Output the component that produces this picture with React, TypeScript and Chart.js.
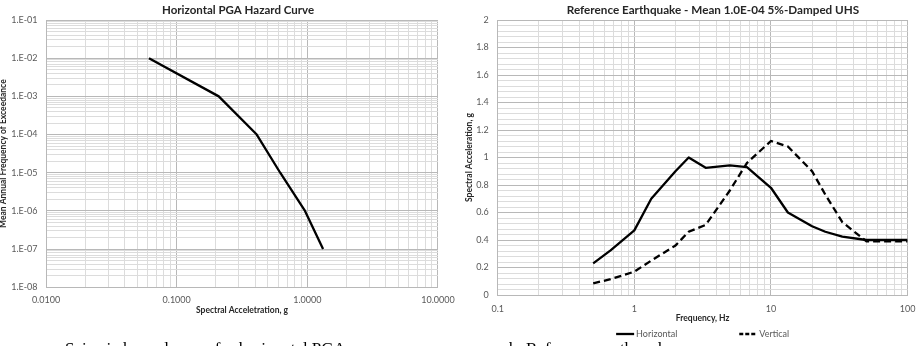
import { useEffect, useRef } from "react";
import { Chart, registerables } from "chart.js";

Chart.register(...registerables);

const FONT = "Lato, 'Open Sans', sans-serif";
const TICK_COLOR = "#595959";
const TITLE_COLOR = "#262626";
const GRID_MAJOR = "#b8b8b8";
const GRID_MINOR = "#dcdcdc";

// ---- Horizontal PGA hazard curve ----
const pgaValues = [0.0614, 0.21, 0.41, 0.62, 0.96, 1.32];
const exceedanceFreq = [1e-2, 1e-3, 1e-4, 1e-5, 1e-6, 1e-7];

const hazardXDecades = [0.01, 0.1, 1, 10];
const hazardXLabels = ["0.0100", "0.1000", "1.0000", "10.0000"];
const hazardYDecades = [1e-8, 1e-7, 1e-6, 1e-5, 1e-4, 1e-3, 1e-2, 1e-1];
const hazardYLabels = ["1.E-08", "1.E-07", "1.E-06", "1.E-05", "1.E-04", "1.E-03", "1.E-02", "1.E-01"];

// ---- Reference earthquake UHS ----
const uhsFreqH = [0.5, 0.67, 1, 1.33, 2, 2.5, 3.33, 5, 6.67, 10, 13.3, 20, 25, 33.3, 50, 100];
const uhsSaH = [0.23, 0.325, 0.47, 0.7, 0.9, 1.0, 0.925, 0.943, 0.93, 0.78, 0.6, 0.5, 0.46, 0.425, 0.4, 0.4];
const uhsFreqV = [0.5, 0.67, 1, 1.33, 2, 2.5, 3.33, 5, 6.67, 10, 13.3, 20, 25, 33.3, 50, 100];
const uhsSaV = [0.085, 0.115, 0.17, 0.25, 0.36, 0.46, 0.51, 0.76, 0.96, 1.12, 1.08, 0.9, 0.73, 0.53, 0.39, 0.39];

const uhsXDecades = [0.1, 1, 10, 100];
const uhsXLabels = ["0.1", "1", "10", "100"];
const uhsYValues = [0, 0.2, 0.4, 0.6, 0.8, 1, 1.2, 1.4, 1.6, 1.8, 2];
const uhsYLabels = ["0", "0.2", "0.4", "0.6", "0.8", "1", "1.2", "1.4", "1.6", "1.8", "2"];
const UHS_MINOR_STEP = 0.04;

// every 1..9 x 10^n value between min and max (log grid)
function logGrid(min: number, max: number): number[] {
  const out: number[] = [];
  const e0 = Math.floor(Math.log10(min) + 1e-9);
  const e1 = Math.ceil(Math.log10(max) - 1e-9);
  for (let e = e0; e <= e1; e++) {
    for (let m = 1; m <= 9; m++) {
      const v = Number((m * Math.pow(10, e)).toPrecision(10));
      if (v >= min * (1 - 1e-9) && v <= max * (1 + 1e-9)) out.push(v);
    }
  }
  return out;
}

function labelFor(values: number[], labels: string[], v: number): string {
  const i = values.findIndex((d) => Math.abs(d - v) <= Math.abs(d) * 1e-6 + 1e-9);
  return i >= 0 ? labels[i] : "";
}

function isIn(values: number[], v: number): boolean {
  return values.some((d) => Math.abs(d - v) <= Math.abs(d) * 1e-6 + 1e-9);
}

const shiftTitle = (dx: number) => ({
  id: "shiftTitle",
  afterLayout(chart: any) {
    const t = chart.titleBlock;
    if (t) {
      t.left += dx;
      t.right += dx;
    }
  },
});

// line-sample key drawn under the axis title
const lineKey = {
  id: "lineKey",
  afterDraw(chart: any) {
    const { ctx, chartArea } = chart;
    const y = chart.height - 12;
    const sample = 18;
    const gap = 2;
    const spacing = 62;
    ctx.save();
    ctx.font = `9px ${FONT}`;
    const items = chart.data.datasets.map((ds: any) => ({
      ds,
      w: sample + gap + ctx.measureText(ds.label).width,
    }));
    const total = items.reduce((s: number, it: any) => s + it.w, 0) + spacing * (items.length - 1);
    let x = (chartArea.left + chartArea.right) / 2 - total / 2;
    for (const it of items) {
      ctx.strokeStyle = it.ds.borderColor;
      ctx.lineWidth = it.ds.borderWidth;
      ctx.setLineDash(it.ds.borderDash ? [4, 2] : []);
      ctx.beginPath();
      ctx.moveTo(x, y);
      ctx.lineTo(x + sample, y);
      ctx.stroke();
      ctx.setLineDash([]);
      ctx.fillStyle = TICK_COLOR;
      ctx.textBaseline = "middle";
      ctx.textAlign = "left";
      ctx.fillText(it.ds.label, x + sample + gap, y);
      x += it.w + spacing;
    }
    ctx.restore();
  },
};

function hazardConfig(): any {
  return {
    type: "scatter",
    data: {
      datasets: [
        {
          label: "Horizontal PGA",
          data: pgaValues.map((x, i) => ({ x, y: exceedanceFreq[i] })),
          showLine: true,
          borderColor: "#000000",
          borderWidth: 2.3,
          borderJoinStyle: "round",
          pointRadius: 0,
          pointHoverRadius: 0,
          fill: false,
        },
      ],
    },
    plugins: [shiftTitle(19)],
    options: {
      animation: false,
      responsive: false,
      devicePixelRatio: 1,
      events: [],
      layout: { padding: { left: 0, right: 24, top: 0, bottom: 28.7 } },
      plugins: {
        legend: { display: false },
        tooltip: { enabled: false },
        title: {
          display: true,
          text: "Horizontal PGA Hazard Curve",
          color: TITLE_COLOR,
          font: { family: FONT, size: 11.5, weight: "bold" },
          padding: { top: 3.3, bottom: 2.9 },
        },
      },
      scales: {
        x: {
          type: "logarithmic",
          min: 0.01,
          max: 10,
          afterBuildTicks: (s: any) => {
            s.ticks = logGrid(0.01, 10).map((value) => ({ value }));
          },
          afterFit: (s: any) => {
            s.height = 30;
          },
          grid: {
            drawTicks: false,
            lineWidth: 1,
            color: (c: any) => (isIn(hazardXDecades, c.tick?.value) ? GRID_MAJOR : GRID_MINOR),
          },
          border: { color: GRID_MAJOR },
          ticks: {
            autoSkip: false,
            maxRotation: 0,
            padding: 7.3,
            color: TICK_COLOR,
            font: { family: FONT, size: 9 },
            callback: (v: any) => labelFor(hazardXDecades, hazardXLabels, Number(v)),
          },
          title: {
            display: true,
            text: "Spectral Acceletration, g",
            color: TITLE_COLOR,
            font: { family: FONT, size: 8.5, weight: "bold" },
            padding: { top: 0, bottom: 2 },
          },
        },
        y: {
          type: "logarithmic",
          min: 1e-8,
          max: 1e-1,
          afterBuildTicks: (s: any) => {
            s.ticks = logGrid(1e-8, 1e-1).map((value) => ({ value }));
          },
          afterFit: (s: any) => {
            s.width = 46;
          },
          grid: {
            drawTicks: false,
            lineWidth: 1,
            color: (c: any) => (isIn(hazardYDecades, c.tick?.value) ? GRID_MAJOR : GRID_MINOR),
          },
          border: { color: GRID_MAJOR },
          ticks: {
            autoSkip: false,
            padding: 8.5,
            color: TICK_COLOR,
            font: { family: FONT, size: 9 },
            callback: (v: any) => labelFor(hazardYDecades, hazardYLabels, Number(v)),
          },
          title: {
            display: true,
            text: "Mean Annual Frequency of Exceedance",
            color: TITLE_COLOR,
            font: { family: FONT, size: 8.5, weight: "bold" },
            padding: { top: -2, bottom: 0 },
          },
        },
      },
    },
  };
}

function uhsConfig(): any {
  const minorY: number[] = [];
  for (let i = 0; i <= Math.round(2 / UHS_MINOR_STEP); i++) {
    minorY.push(Number((i * UHS_MINOR_STEP).toFixed(2)));
  }
  return {
    type: "scatter",
    data: {
      datasets: [
        {
          label: "Horizontal",
          data: uhsFreqH.map((x, i) => ({ x, y: uhsSaH[i] })),
          showLine: true,
          borderColor: "#000000",
          borderWidth: 2.3,
          borderJoinStyle: "round",
          pointRadius: 0,
          pointHoverRadius: 0,
          fill: false,
        },
        {
          label: "Vertical",
          data: uhsFreqV.map((x, i) => ({ x, y: uhsSaV[i] })),
          showLine: true,
          borderColor: "#000000",
          borderWidth: 2.3,
          borderDash: [7, 4],
          pointRadius: 0,
          pointHoverRadius: 0,
          fill: false,
        },
      ],
    },
    plugins: [shiftTitle(24), lineKey],
    options: {
      animation: false,
      responsive: false,
      devicePixelRatio: 1,
      events: [],
      layout: { padding: { left: 0, right: 8, top: 0, bottom: 21 } },
      plugins: {
        legend: { display: false },
        tooltip: { enabled: false },
        title: {
          display: true,
          text: "Reference Earthquake - Mean 1.0E-04 5%-Damped UHS",
          color: TITLE_COLOR,
          font: { family: FONT, size: 11.7, weight: "bold" },
          padding: { top: 3.1, bottom: 2.9 },
        },
      },
      scales: {
        x: {
          type: "logarithmic",
          min: 0.1,
          max: 100,
          afterBuildTicks: (s: any) => {
            s.ticks = logGrid(0.1, 100).map((value) => ({ value }));
          },
          afterFit: (s: any) => {
            s.height = 30;
          },
          grid: {
            drawTicks: false,
            lineWidth: 1,
            color: (c: any) => (isIn(uhsXDecades, c.tick?.value) ? GRID_MAJOR : GRID_MINOR),
          },
          border: { color: GRID_MAJOR },
          ticks: {
            autoSkip: false,
            maxRotation: 0,
            padding: 8.6,
            color: TICK_COLOR,
            font: { family: FONT, size: 9 },
            callback: (v: any) => labelFor(uhsXDecades, uhsXLabels, Number(v)),
          },
          title: {
            display: true,
            text: "Frequency, Hz",
            color: TITLE_COLOR,
            font: { family: FONT, size: 8.5, weight: "bold" },
            padding: { top: 0, bottom: 1.3 },
          },
        },
        y: {
          type: "linear",
          min: 0,
          max: 2,
          afterBuildTicks: (s: any) => {
            s.ticks = minorY.map((value) => ({ value }));
          },
          afterFit: (s: any) => {
            s.width = 35.7;
          },
          grid: {
            drawTicks: false,
            lineWidth: 1,
            color: (c: any) => (isIn(uhsYValues, c.tick?.value) ? GRID_MAJOR : GRID_MINOR),
          },
          border: { color: GRID_MAJOR },
          ticks: {
            autoSkip: false,
            padding: 9,
            color: TICK_COLOR,
            font: { family: FONT, size: 9 },
            callback: (v: any) => labelFor(uhsYValues, uhsYLabels, Number(v)),
          },
          title: {
            display: true,
            text: "Spectral Acceleration, g",
            color: TITLE_COLOR,
            font: { family: FONT, size: 8.5, weight: "bold" },
            padding: { top: 2, bottom: 0 },
          },
        },
      },
    },
  };
}

function ChartCanvas({ left, width, height, make }: { left: number; width: number; height: number; make: () => any }) {
  const ref = useRef<HTMLCanvasElement>(null);
  useEffect(() => {
    if (!ref.current) return;
    const chart = new Chart(ref.current, make());
    return () => chart.destroy();
  }, []);
  return (
    <canvas
      ref={ref}
      width={width}
      height={height}
      style={{ position: "absolute", left, top: 0, width, height }}
    />
  );
}

const captionStyle = {
  position: "absolute" as const,
  top: 339,
  fontFamily: "'Liberation Serif', 'Times New Roman', serif",
  fontSize: 17,
  lineHeight: "20px",
  whiteSpace: "nowrap" as const,
  color: "#000",
};

export default function App() {
  return (
    <div
      style={{
        position: "fixed",
        left: 0,
        top: 0,
        width: 924,
        height: 346,
        overflow: "hidden",
        background: "#ffffff",
      }}
    >
      <ChartCanvas left={0} width={462} height={346} make={hazardConfig} />
      <ChartCanvas left={462} width={462} height={346} make={uhsConfig} />
      <div style={{ ...captionStyle, left: 65 }}>Seismic hazard curve for horizontal PGA</div>
      <div style={{ ...captionStyle, left: 509 }}>b. Reference earthquake</div>
    </div>
  );
}
